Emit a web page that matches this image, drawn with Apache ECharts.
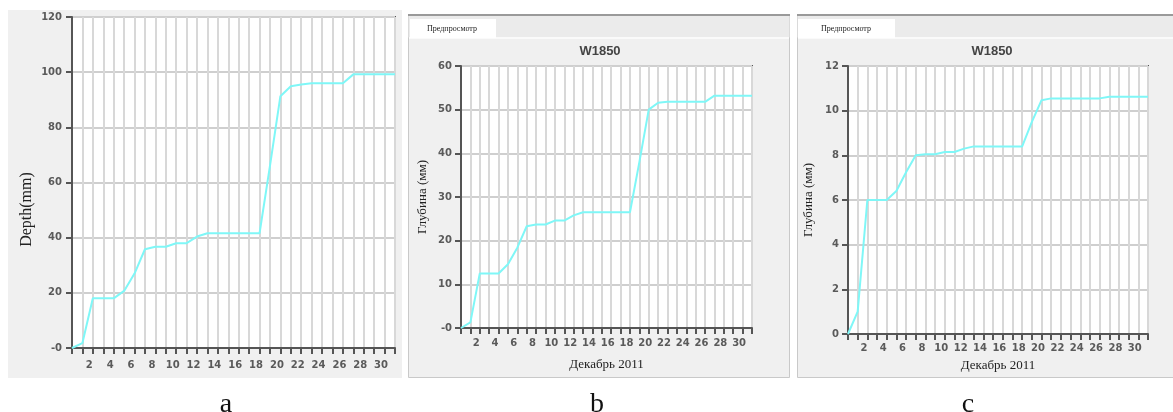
<!DOCTYPE html>
<html>
<head>
<meta charset="utf-8">
<script src="https://cdn.jsdelivr.net/npm/echarts@6/dist/echarts.min.js"></script>
<style>
html,body{margin:0;padding:0;background:#fff;}
#chart{width:1173px;height:412px;}
</style>
</head>
<body>
<div id="chart"></div>
<script>
// ---- data ----
const days = [0,1,2,3,4,5,6,7,8,9,10,11,12,13,14,15,16,17,18,19,20,21,22,23,24,25,26,27,28,29,30,31];
const depthA = [0,1.8,18,18,18,20.7,27,35.8,36.7,36.7,38,38,40.4,41.6,41.6,41.6,41.6,41.6,41.6,66,91.3,94.9,95.5,96,96,96,96,99.2,99.2,99.2,99.2,99.2];
const depthB = [0,1.3,12.5,12.5,12.5,14.6,18.4,23.3,23.7,23.7,24.6,24.6,25.8,26.5,26.5,26.5,26.5,26.5,26.5,38,50,51.6,51.8,51.8,51.8,51.8,51.8,53.2,53.2,53.2,53.2,53.2];
const depthC = [0,1.0,6,6,6,6.4,7.24,8,8.05,8.05,8.15,8.15,8.3,8.4,8.4,8.4,8.4,8.4,8.4,9.5,10.47,10.55,10.55,10.55,10.55,10.55,10.55,10.62,10.62,10.62,10.62,10.62];
const yMaxes = [120, 60, 12];
const yIntervals = [20, 10, 2];
const xTickLabels = [2,4,6,8,10,12,14,16,18,20,22,24,26,28,30];
const yNames = ['Depth(mm)', 'Глубина (мм)', 'Глубина (мм)'];
const xNames = ['', 'Декабрь 2011', 'Декабрь 2011'];
const chartTitle = 'W1850';
const tabText = 'Предпросмотр';
const panelLetters = ['a', 'b', 'c'];
const zeroLabels = ['-0', '-0', '0'];

// ---- layout ----
const grids = [
  {left: 72, top: 17, width: 323, height: 331},
  {left: 461, top: 66, width: 291, height: 262},
  {left: 848, top: 66, width: 300, height: 268}
];
const xLabelMargins = [12, 10, 9];
const yLabelMargins = [10, 9, 9];
const yNameGaps = [37, 32, 33];
const xNameGaps = [0, 30, 25];

const series = [depthA, depthB, depthC];
const tickCol = '#555';
const labelFont = 'DejaVu Sans, Verdana, sans-serif';
const serif = 'Liberation Serif, Times New Roman, serif';

const option = {
  backgroundColor: '#fff',
  animation: false,
  graphic: [
    {type:'rect', shape:{x:8,y:10,width:394,height:368}, style:{fill:'#f0f0f0'}, z:-10},
    {type:'rect', shape:{x:408.5,y:15.5,width:381,height:362}, style:{fill:'#f0f0f0', stroke:'#c9c9c9', lineWidth:1}, z:-10},
    {type:'rect', shape:{x:408.5,y:15.5,width:381,height:22}, style:{fill:'#ebebeb'}, z:-9},
    {type:'line', shape:{x1:408,y1:15,x2:790,y2:15}, style:{stroke:'#9a9a9a', lineWidth:2}, z:-8},
    {type:'line', shape:{x1:409,y1:38,x2:789,y2:38}, style:{stroke:'#fafafa', lineWidth:2}, z:-8},
    {type:'rect', shape:{x:410,y:19,width:86,height:19}, style:{fill:'#fff'}, z:-7},
    {type:'text', x:452, y:29, style:{text:tabText, font:'8px '+serif, fill:'#222', align:'center', verticalAlign:'middle'}},
    {type:'rect', shape:{x:797.5,y:15.5,width:380,height:362}, style:{fill:'#f0f0f0', stroke:'#c9c9c9', lineWidth:1}, z:-10},
    {type:'rect', shape:{x:797.5,y:15.5,width:380,height:22}, style:{fill:'#ebebeb'}, z:-9},
    {type:'line', shape:{x1:797,y1:15,x2:1173,y2:15}, style:{stroke:'#9a9a9a', lineWidth:2}, z:-8},
    {type:'line', shape:{x1:798,y1:38,x2:1173,y2:38}, style:{stroke:'#fafafa', lineWidth:2}, z:-8},
    {type:'rect', shape:{x:798,y:19,width:97,height:19}, style:{fill:'#fff'}, z:-7},
    {type:'text', x:846, y:29, style:{text:tabText, font:'8px '+serif, fill:'#222', align:'center', verticalAlign:'middle'}}
  ],
  title: [
    {text: chartTitle, left: 600, top: 45, textAlign:'center', padding:0, textStyle:{fontFamily:'Liberation Sans, Arial, sans-serif', fontWeight:'bold', fontSize:13, color:'#444'}},
    {text: chartTitle, left: 992, top: 45, textAlign:'center', padding:0, textStyle:{fontFamily:'Liberation Sans, Arial, sans-serif', fontWeight:'bold', fontSize:13, color:'#444'}},
    {text: panelLetters[0], left: 226, top: 391, textAlign:'center', padding:0, textStyle:{fontFamily:serif, fontWeight:'normal', fontSize:28, color:'#111'}},
    {text: panelLetters[1], left: 597, top: 391, textAlign:'center', padding:0, textStyle:{fontFamily:serif, fontWeight:'normal', fontSize:28, color:'#111'}},
    {text: panelLetters[2], left: 968, top: 391, textAlign:'center', padding:0, textStyle:{fontFamily:serif, fontWeight:'normal', fontSize:28, color:'#111'}}
  ],
  grid: grids.map(g => Object.assign({show:true, backgroundColor:'#fff', borderColor:'#555', borderWidth:2}, g)),
  xAxis: grids.map((g, i) => ({
    type:'value', gridIndex:i, min:0, max:31, interval:1,
    name: xNames[i], nameLocation:'middle', nameGap: xNameGaps[i],
    nameTextStyle:{fontFamily:serif, fontSize:13, color:'#222'},
    axisLine:{show:true, lineStyle:{color:tickCol, width:2}},
    axisTick:{show:true, length:6, lineStyle:{color:tickCol, width:2}},
    axisLabel:{margin:xLabelMargins[i], color:'#5a5a5a', fontFamily:labelFont, fontWeight:'bold', fontSize:10,
      padding:[0,7,0,0],
      formatter: v => xTickLabels.indexOf(v) >= 0 ? String(v) : ''},
    splitLine:{show:true, lineStyle:{color:'#d8d8d8', width:2}}
  })),
  yAxis: grids.map((g, i) => ({
    type:'value', gridIndex:i, min:0, max:yMaxes[i], interval:yIntervals[i],
    name: yNames[i], nameLocation:'middle', nameGap: yNameGaps[i],
    nameTextStyle: i === 0
      ? {fontFamily:serif, fontSize:16, color:'#222', padding:[0,54,0,0]}
      : {fontFamily:serif, fontSize:13, color:'#222'},
    axisLine:{show:true, lineStyle:{color:tickCol, width:2}},
    axisTick:{show:true, length:6, lineStyle:{color:tickCol, width:2}},
    axisLabel:{margin:yLabelMargins[i], color:'#5a5a5a', fontFamily:labelFont, fontWeight:'bold', fontSize:10,
      formatter: v => v === 0 ? zeroLabels[i] : String(v)},
    splitLine:{show:true, lineStyle:{color:'#cfcfcf', width:2}}
  })),
  series: series.map((vals, i) => ({
    type:'line', xAxisIndex:i, yAxisIndex:i,
    data: days.map((d, k) => [d, vals[k]]),
    showSymbol:false, symbol:'none',
    lineStyle:{color:'#7ff7f7', width:2},
    z: 5
  }))
};

const chart = echarts.init(document.getElementById('chart'), null, {renderer:'canvas'});
chart.setOption(option);
</script>
</body>
</html>
